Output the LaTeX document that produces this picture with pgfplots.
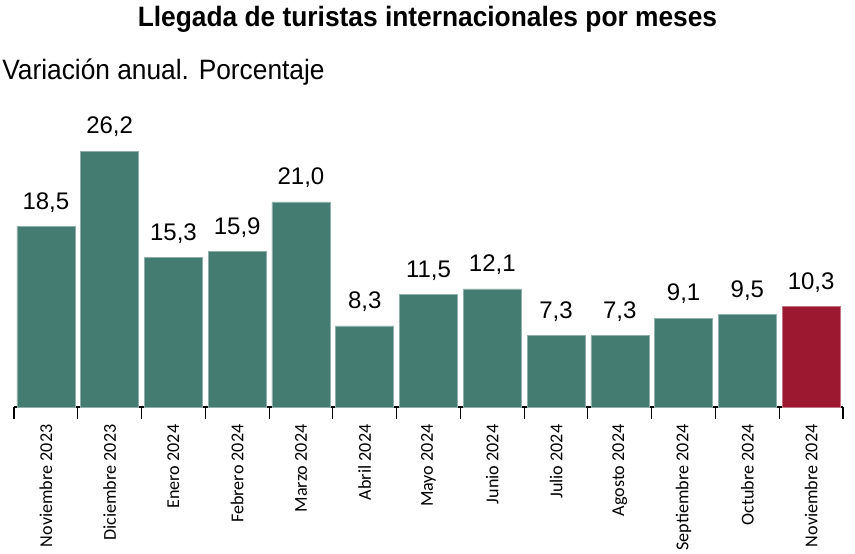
\documentclass[border=0pt]{standalone}
\usepackage{pgfplots}
\pgfplotsset{compat=1.18}
\usepackage{fontspec}
\setmainfont{Liberation Sans}
\newfontfamily\carlito{Carlito}
\definecolor{tealbar}{RGB}{68,124,114}
\definecolor{redbar}{RGB}{155,24,48}

\begin{document}
\begin{tikzpicture}
\path[use as bounding box] (0,0) rectangle (641.25pt,414.75pt);

\node[anchor=center] at (320.6pt,400.5pt)
  {\scalebox{0.94}[1]{\fontsize{21}{24}\selectfont\bfseries Llegada de turistas internacionales por meses}};
\node[anchor=west, inner sep=0pt] at (1.5pt,360.5pt)
  {\scalebox{0.94}[1]{\fontsize{21}{24}\selectfont Variación anual. Porcentaje}};

\begin{axis}[
    at={(10.5pt,109.5pt)}, anchor=south west,
    scale only axis,
    width=621.75pt, height=192pt,
    xmin=-0.5, xmax=12.5,
    ymin=0, ymax=26.2,
    clip=false,
    axis x line*=bottom,
    axis y line=none,
    x axis line style={-, black, line width=0.8pt},
    xtick={0,...,12},
    major tick length=0pt,
    xtick style={draw=black, line width=0.8pt},
    xticklabels={Noviembre 2023, Diciembre 2023, Enero 2024, Febrero 2024,
        Marzo 2024, Abril 2024, Mayo 2024, Junio 2024, Julio 2024,
        Agosto 2024, Septiembre 2024, Octubre 2024, Noviembre 2024},
    xticklabel style={rotate=90, anchor=east, font=\carlito\fontsize{13.6}{15}\selectfont, inner sep=0pt, xshift=-13pt},
    extra x ticks={-0.5,0.5,...,12.5},
    extra x tick labels={},
    extra x tick style={tick align=outside, major tick length=9pt},
    ybar, bar width=0.91, bar shift=0pt,
    nodes near coords,
    nodes near coords style={font=\fontsize{18}{20}\selectfont, anchor=south, yshift=7pt},
    /pgf/number format/.cd, use comma, fixed, fixed zerofill, precision=1, assume math mode=true,
]
\addplot[fill=tealbar, draw=tealbar!60!white, line width=0.4pt] coordinates {
    (0,18.5) (1,26.2) (2,15.3) (3,15.9) (4,21.0) (5,8.3) (6,11.5)
    (7,12.1) (8,7.3) (9,7.3) (10,9.1) (11,9.5)
};
\addplot[fill=redbar, draw=redbar!60!white, line width=0.4pt] coordinates {
    (12,10.3)
};
\end{axis}
\end{tikzpicture}
\end{document}
